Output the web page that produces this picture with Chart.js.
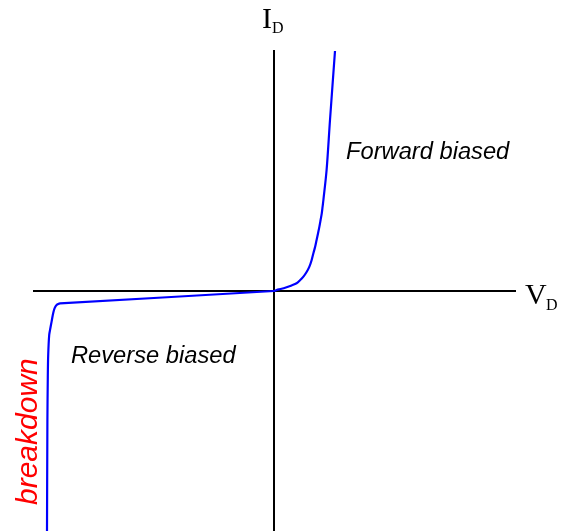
<!DOCTYPE html>
<html>
<head>
<meta charset="utf-8">
<script src="https://cdn.jsdelivr.net/npm/chart.js@4/dist/chart.umd.min.js"></script>
<style>
  body { margin: 0; background: #fff; }
  #wrap { width: 563px; height: 531px; }
</style>
</head>
<body>
<div id="wrap"><canvas id="diodeChart" width="563" height="531"></canvas></div>
<script>
// diode I-V curve, arbitrary units
const vd = [
    -11.35, -11.33, -11.31, -11.29, -11.24, -11.18, -11.12, -11.06, -11.0, -10.94, -10.87, -10.79, -10.7,
    0, 0.13, 0.38, 0.63, 0.88, 1.13, 1.3, 1.47, 1.63, 1.77, 1.88, 1.97, 2.06, 2.13, 2.2, 2.27, 2.33, 2.39,
    2.43, 2.47, 2.63, 2.8, 3.05
];
const id = [
    -12, -6.45, -4.3, -3.2, -2.2, -1.85, -1.53, -1.2, -0.95, -0.8, -0.7, -0.65, -0.62,
    0, 0.05, 0.11, 0.19, 0.28, 0.39, 0.54, 0.72, 0.95, 1.22, 1.54, 1.89, 2.22, 2.55, 2.88, 3.22, 3.55, 3.89,
    4.22, 4.55, 6.05, 8.55, 12
];
const axisLabels = ["I", "V", "D"];
const regionLabels = ["Forward biased", "Reverse biased", "breakdown"];

const points = vd.map((v, i) => ({ x: v, y: id[i] }));

// text labels drawn on top of the chart
const labelPlugin = {
    id: "labels",
    afterDraw(chart) {
        const ctx = chart.ctx;
        ctx.save();
        ctx.fillStyle = "#000";
        ctx.textBaseline = "alphabetic";
        ctx.textAlign = "left";

        // axis names with subscripts
        ctx.font = "30px 'Liberation Serif', 'Times New Roman', serif";
        ctx.fillText(axisLabels[0], 262, 28);
        ctx.fillText(axisLabels[1], 525, 304);
        ctx.font = "16px 'Liberation Serif', 'Times New Roman', serif";
        ctx.fillText(axisLabels[2], 272, 33);
        ctx.fillText(axisLabels[2], 546, 310);

        // region notes
        ctx.font = "italic 23.7px 'Liberation Sans', Arial, sans-serif";
        ctx.fillText(regionLabels[0], 346, 159);
        ctx.fillText(regionLabels[1], 71, 363);

        ctx.fillStyle = "#ff0000";
        ctx.font = "italic 30px 'Liberation Sans', Arial, sans-serif";
        ctx.translate(37, 505);
        ctx.rotate(-Math.PI / 2);
        ctx.fillText(regionLabels[2], 0, 0);
        ctx.restore();
    }
};

new Chart(document.getElementById("diodeChart"), {
    type: "scatter",
    data: {
        datasets: [{
            data: points,
            showLine: true,
            borderColor: "#0000ff",
            borderWidth: 2.2,
            pointRadius: 0,
            tension: 0.3
        }]
    },
    options: {
        responsive: false,
        animation: false,
        layout: { padding: { left: 34, top: 51, right: 48, bottom: 0 } },
        plugins: { legend: { display: false }, tooltip: { enabled: false } },
        scales: {
            x: {
                type: "linear",
                min: -12, max: 12.05,
                position: { y: 0 },
                ticks: { display: false },
                grid: { display: false, drawTicks: false },
                border: { display: true, color: "#000", width: 2 }
            },
            y: {
                type: "linear",
                min: -12, max: 12,
                position: { x: 0 },
                ticks: { display: false },
                grid: { display: false, drawTicks: false },
                border: { display: true, color: "#000", width: 2 }
            }
        }
    },
    plugins: [labelPlugin]
});
</script>
</body>
</html>
